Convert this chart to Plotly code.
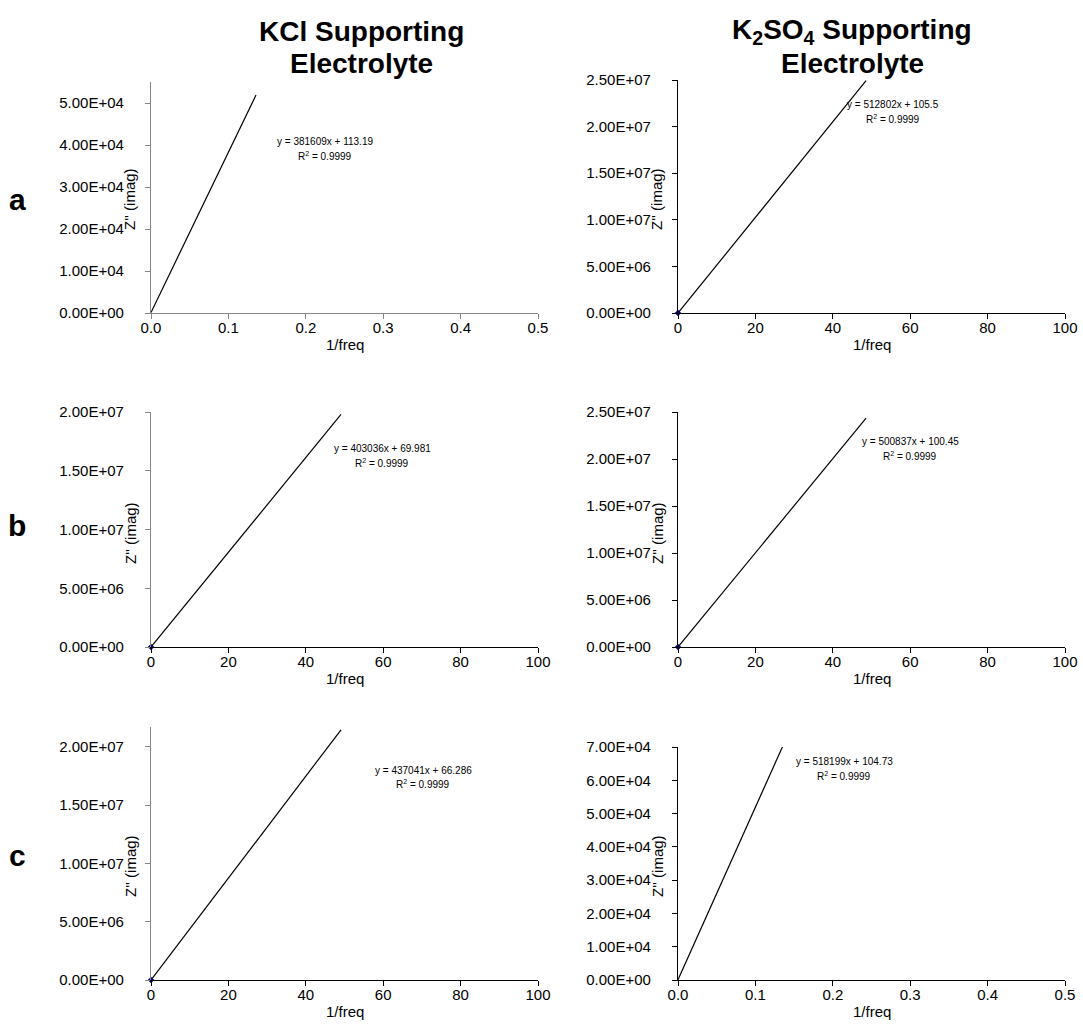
import plotly.graph_objects as go

W, H = 1083, 1025

# Linear fits of Z'' (imag) against 1/freq, one per panel (rows a-c; KCl left, K2SO4 right)
panel_ids = ["a_KCl", "a_K2SO4", "b_KCl", "b_K2SO4", "c_KCl", "c_K2SO4"]
slopes = [381609, 512802, 403036, 500837, 437041, 518199]
intercepts = [113.19, 105.5, 69.981, 100.45, 66.286, 104.73]
r_squared = ["0.9999", "0.9999", "0.9999", "0.9999", "0.9999", "0.9999"]
fit_x_start = [0.0, 0.0, 0.0, 0.0, 0.0, 0.0]
fit_x_end = [0.1357, 48.6, 49.1, 48.6, 49.1, 0.1357]

# measured points clustered at the origin
point_x = [0.0, 0.0, 0.0, 0.0, 0.0, 0.0]
point_y = [0.0, 0.0, 0.0, 0.0, 0.0, 0.0]
point_visible = [False, True, True, True, True, False]

# axis scales
x_max = [0.5, 100, 100, 100, 100, 0.5]
x_ticks = [
    [0.0, 0.1, 0.2, 0.3, 0.4, 0.5],
    [0, 20, 40, 60, 80, 100],
    [0, 20, 40, 60, 80, 100],
    [0, 20, 40, 60, 80, 100],
    [0, 20, 40, 60, 80, 100],
    [0.0, 0.1, 0.2, 0.3, 0.4, 0.5],
]
x_tick_text = [
    ["0.0", "0.1", "0.2", "0.3", "0.4", "0.5"],
    ["0", "20", "40", "60", "80", "100"],
    ["0", "20", "40", "60", "80", "100"],
    ["0", "20", "40", "60", "80", "100"],
    ["0", "20", "40", "60", "80", "100"],
    ["0.0", "0.1", "0.2", "0.3", "0.4", "0.5"],
]
y_max = [5.5e4, 2.5e7, 2.0e7, 2.5e7, 2.17e7, 7.0e4]
y_ticks = [
    [0, 1e4, 2e4, 3e4, 4e4, 5e4],
    [0, 5e6, 1e7, 1.5e7, 2e7, 2.5e7],
    [0, 5e6, 1e7, 1.5e7, 2e7],
    [0, 5e6, 1e7, 1.5e7, 2e7, 2.5e7],
    [0, 5e6, 1e7, 1.5e7, 2e7],
    [0, 1e4, 2e4, 3e4, 4e4, 5e4, 6e4, 7e4],
]

column_title_lines = [
    ["KCl Supporting", "Electrolyte"],
    ["K<sub>2</sub>SO<sub>4</sub> Supporting", "Electrolyte"],
]
row_labels = ["a", "b", "c"]

# plot-area boxes in pixels: (left, right, top, bottom)
boxes = [
    (151, 538, 82, 313), (678, 1065, 80, 313),
    (151, 538, 412, 647), (678, 1065, 412, 647),
    (151, 538, 727, 980), (678, 1065, 747, 980),
]
# fit-label positions in pixels (centre x, equation line y, R² line y)
eq_pos = [(325, 141, 156), (893, 105, 119), (382, 449, 463),
          (910, 442, 456), (423, 770, 784), (844, 761, 776)]

FONT = "Liberation Sans, Arial, sans-serif"


def fx(px):
    return px / W


def fy(py):
    return 1 - py / H


def label(px, py, text, size, **kw):
    return dict(x=fx(px), y=fy(py), xref="paper", yref="paper", text=text,
                showarrow=False, font=dict(family=FONT, size=size, color="black"),
                xanchor="center", yanchor="middle", **kw)


fig = go.Figure()
layout = dict(
    width=W, height=H, margin=dict(l=0, r=0, t=0, b=0),
    paper_bgcolor="white", plot_bgcolor="white", showlegend=False,
    font=dict(family=FONT, size=15, color="black"),
)
annotations = []

for i in range(6):
    n = "" if i == 0 else str(i + 1)
    left, right, top, bottom = boxes[i]
    col = i % 2
    y_line_color = "#868686" if col == 0 else "#000000"
    x_line_color = "#868686" if i == 0 else "#000000"

    xs = [fit_x_start[i], fit_x_end[i]]
    ys = [slopes[i] * x + intercepts[i] for x in xs]
    fig.add_trace(go.Scatter(
        x=xs, y=ys, mode="lines", line=dict(color="black", width=1.2),
        xaxis="x" + n, yaxis="y" + n, hoverinfo="skip",
    ))
    if point_visible[i]:
        fig.add_trace(go.Scatter(
            x=[point_x[i]], y=[point_y[i]], mode="markers",
            marker=dict(color="#000080", size=5, symbol="diamond"),
            xaxis="x" + n, yaxis="y" + n, cliponaxis=False,
        ))

    layout["xaxis" + n] = dict(
        domain=[fx(left), fx(right)], anchor="y" + n, range=[0, x_max[i]],
        showline=True, linecolor=x_line_color, linewidth=1.3,
        ticks="outside", ticklen=5, tickcolor=x_line_color, tickwidth=1,
        tickvals=x_ticks[i], ticktext=x_tick_text[i],
        showgrid=False, zeroline=False, automargin=False,
        ticklabelstandoff=-4,
        tickfont=dict(family=FONT, size=15, color="black"),
    )
    layout["yaxis" + n] = dict(
        domain=[fy(bottom), fy(top)], anchor="x" + n, range=[0, y_max[i]],
        showline=True, linecolor=y_line_color, linewidth=1.3,
        ticks="outside", ticklen=5, tickcolor=y_line_color, tickwidth=1,
        tickvals=y_ticks[i], ticktext=[f"{v:.2E}" for v in y_ticks[i]],
        showgrid=False, zeroline=False, automargin=False,
        ticklabelstandoff=18,
        tickfont=dict(family=FONT, size=15, color="black"),
    )

    # axis titles
    annotations.append(label((left + right) / 2, bottom + 31, "1/freq", 15))
    annotations.append(label(left - 21, bottom - 114, "Z'' (imag)", 15, textangle=-90))

    # fit equation and R²
    ex, ey1, ey2 = eq_pos[i]
    annotations.append(label(ex, ey1, f"y = {slopes[i]}x + {intercepts[i]}", 10))
    annotations.append(label(ex, ey2, f"R<sup>2</sup> = {r_squared[i]}", 10))

# column headings
for c, lines in enumerate(column_title_lines):
    cx = 361 if c == 0 else 852
    for line, py in zip(lines, [31, 63]):
        annotations.append(label(cx, py, f"<b>{line}</b>", 28))

# row letters
for lbl, py in zip(row_labels, [200, 525, 855]):
    annotations.append(label(17, py, f"<b>{lbl}</b>", 30))

layout["annotations"] = annotations
fig.update_layout(**layout)
fig.write_html("out.html")
